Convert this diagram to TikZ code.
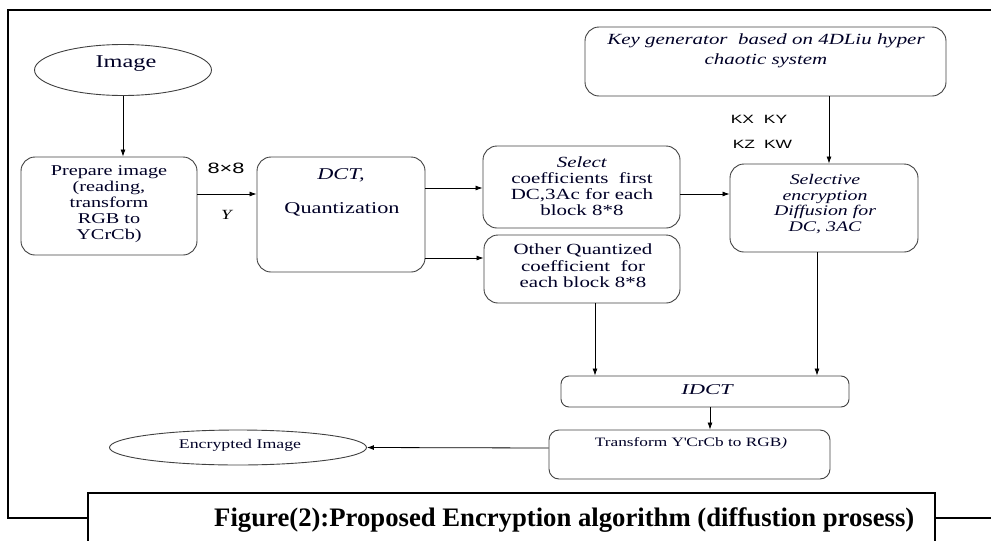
\documentclass[tikz,border=0pt]{standalone}
\usepackage{fontspec}
\setmainfont{Liberation Serif}[FakeStretch=1.35]
\newfontfamily\serifB{Liberation Serif}[FakeStretch=1.5]
\newfontfamily\capfont{Liberation Serif}
\newfontfamily\sansS{Liberation Sans}[FakeStretch=1.45]
\usetikzlibrary{shapes.geometric,arrows.meta}
\begin{document}
\begin{tikzpicture}[x=1pt,y=-1pt,
 box/.style={draw=black!75, line width=0.9pt, rounded corners=14pt, inner sep=0pt},
 oval/.style={ellipse, draw=black!75, line width=0.9pt, inner sep=0pt},
 txt/.style={align=center, inner sep=0pt, text=black!85!blue},
 arr/.style={-{Latex[length=7pt,width=5pt]}, line width=0.8pt},
 frameline/.style={line width=1.4pt}]
\useasboundingbox (0,0) rectangle (991,541);
% outer frame
\draw[frameline] (88,518) -- (8,518) -- (8,10) -- (991,10);
\draw[frameline] (935,518) -- (991,518);
\draw[frameline] (88,545) -- (88,493) -- (935,493) -- (935,545);
\node[anchor=west, inner sep=0pt, font=\capfont\bfseries\fontsize{26.7}{30}\selectfont] (captxt) at (214,520) {Figure(2):Proposed Encryption algorithm (diffustion prosess)};
% nodes
\node[oval, minimum width=177pt, minimum height=51pt] (img) at (123,70) {};
\node[txt, font=\fontsize{18}{20}\selectfont] (imgt) at (126,64) {Image};
\node[box, minimum width=176pt, minimum height=98pt] (prep) at (109,206) {};
\node[txt, font=\fontsize{15}{16}\selectfont] (prept) at (109,204) {Prepare image\\(reading,\\transform\\RGB to\\YCrCb)};
\node[box, minimum width=168pt, minimum height=115pt] (dct) at (341,214.5) {};
\node[txt, font=\fontsize{16.5}{18}\selectfont] (dctt1) at (341,175) {\textit{DCT,}};
\node[txt, font=\fontsize{16.5}{18}\selectfont] (dctt2) at (342,209) {Quantization};
\node[box, minimum width=197pt, minimum height=82pt] (sel) at (581.5,187) {};
\node[txt, font=\fontsize{15.5}{16}\selectfont] (selt) at (582,186) {\textit{Select}\\coefficients\ \ first\\DC,3Ac for each\\block 8*8};
\node[box, minimum width=196pt, minimum height=68pt] (oth) at (582,269) {};
\node[txt, font=\fontsize{15.5}{16.5}\selectfont] (otht) at (583,266) {Other Quantized\\coefficient\ \ for\\each block 8*8};
\node[box, minimum width=361pt, minimum height=69pt] (key) at (765.5,61.5) {};
\node[txt, font=\itshape\fontsize{15.5}{20}\selectfont] (keyt) at (766,51) {Key generator\ \ based on 4DLiu hyper\\chaotic system};
\node[box, minimum width=188pt, minimum height=88pt] (selc) at (824,208) {};
\node[txt, font=\itshape\fontsize{14.7}{15.8}\selectfont] (selct) at (825,204) {Selective\\encryption\\Diffusion for\\DC, 3AC};
\node[box, rounded corners=8pt, minimum width=288pt, minimum height=31pt] (idct) at (705,391.5) {};
\node[txt, font=\serifB\itshape\fontsize{15}{16}\selectfont] (idctt) at (707,390) {IDCT};
\node[box, rounded corners=10pt, minimum width=281pt, minimum height=49pt] (tr) at (689.5,454.5) {};
\node[txt, font=\fontsize{12.8}{14}\selectfont] (trt) at (691,443) {Transform Y\textquotesingle CrCb to RGB\textit{)}};
\node[oval, minimum width=257pt, minimum height=35pt] (enc) at (238,447.5) {};
\node[txt, font=\fontsize{13.2}{14}\selectfont] (enct) at (240,445) {Encrypted Image};
% labels
\node[inner sep=0pt, font=\sansS\fontsize{15}{16}\selectfont] (l88) at (226,168) {8×8};
\node[inner sep=0pt, font=\itshape\fontsize{14}{16}\selectfont] (ly) at (226.5,215) {Y};
\node[inner sep=0pt, font=\sansS\fontsize{12}{14}\selectfont] (lk1) at (759,119) {KX\hspace{10pt}KY};
\node[inner sep=0pt, font=\sansS\fontsize{12}{14}\selectfont] (lk2) at (762.5,144) {KZ\hspace{9pt}KW};
% connectors
\draw[arr] (img.south) -- (img.south |- prep.north);
\draw[arr] ([yshift=12pt]prep.east) -- ([yshift=12pt]prep.east -| dct.west);
\draw[arr] ([yshift=26.5pt]dct.east) -- ([yshift=26.5pt]dct.east -| sel.west);
\draw[arr] ([yshift=-43.5pt]dct.east) -- ([yshift=-43.5pt]dct.east -| oth.west);
\draw[arr] ([yshift=-7pt]sel.east) -- ([yshift=-7pt]sel.east -| selc.west);
\draw[arr] ([xshift=63.5pt]key.south) -- ([xshift=63.5pt]key.south |- selc.north);
\draw[arr] ([xshift=-7pt]selc.south) -- ([xshift=-7pt]selc.south |- idct.north);
\draw[arr] ([xshift=13pt]oth.south) -- ([xshift=13pt]oth.south |- idct.north);
\draw[arr] ([xshift=5pt]idct.south) -- ([xshift=5pt]idct.south |- tr.north);
\draw[arr] ([yshift=6.5pt]tr.west) -- (enc.east);
\end{tikzpicture}
\end{document}
